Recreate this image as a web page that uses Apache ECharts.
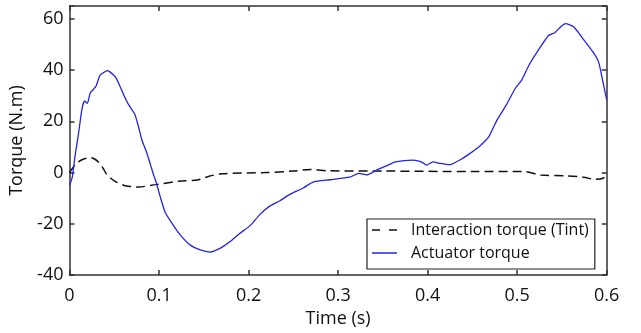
<!DOCTYPE html>
<html><head><meta charset="utf-8">
<script src="https://cdn.jsdelivr.net/npm/echarts@6/dist/echarts.min.js"></script>
<style>html,body{margin:0;padding:0;background:#fff}#c{width:641px;height:333px}</style>
</head><body><div id="c"></div>
<script>
const xTicks = [0, 0.1, 0.2, 0.3, 0.4, 0.5, 0.6];
const yTicks = [-40, -20, 0, 20, 40, 60];
const actuatorT = [0,0.003,0.006,0.010,0.014,0.017,0.020,0.023,0.027,0.030,0.034,0.038,0.042,0.045,0.051,0.056,0.061,0.066,0.073,0.077,0.081,0.086,0.090,0.094,0.097,0.101,0.107,0.116,0.124,0.135,0.146,0.157,0.168,0.179,0.190,0.202,0.213,0.224,0.235,0.245,0.261,0.272,0.291,0.313,0.323,0.332,0.343,0.354,0.364,0.384,0.393,0.399,0.406,0.414,0.425,0.436,0.447,0.459,0.468,0.477,0.488,0.498,0.505,0.513,0.522,0.535,0.542,0.549,0.554,0.563,0.574,0.585,0.591,0.595,0.600];
const actuatorV = [-5,-2,6,15,25,28,27,31,32.6,34,38,39,39.8,39.3,37.4,34,30,26.5,22.7,18,12.5,8,3.6,-1,-4,-9,-15.6,-20.6,-24.5,-28.3,-30.2,-31,-29.6,-27,-23.8,-20.6,-16.2,-13,-11,-8.7,-6,-3.7,-2.8,-1.8,-0.3,-0.9,1,2.6,4.2,4.9,4.2,2.9,4.2,3.6,3.1,4.9,7.4,10.6,13.8,20.2,26.5,32.9,36.1,41.8,46.9,53.5,54.6,57,58.1,56.9,52,46.9,43.1,36.7,28.4];
const interT = [0,0.005,0.010,0.016,0.023,0.028,0.032,0.037,0.042,0.051,0.062,0.077,0.096,0.122,0.144,0.155,0.170,0.218,0.25,0.269,0.29,0.35,0.45,0.507,0.526,0.556,0.574,0.587,0.596,0.600];
const interV = [0,2.5,4.2,5.3,5.9,5.3,4.2,2,-0.9,-3.4,-5.1,-5.6,-4.7,-3.4,-2.8,-1.5,-0.5,0,0.6,1.2,0.7,0.6,0.4,0.4,-0.9,-1.3,-1.8,-2.6,-2.2,-0.5];
const seriesNames = ['Interaction torque (Tint)', 'Actuator torque'];

const zip = (a, b) => a.map((t, i) => [t, b[i]]);
const FONT = '"Open Sans", sans-serif';
const lineC = '#333';
const BLUE = '#2424e0';
const chart = echarts.init(document.getElementById('c'));
const baseX = {
  type: 'value', min: 0, max: 0.6, interval: 0.1,
  axisLine: {show: true, onZero: false, lineStyle: {color: lineC, width: 1.5}},
  axisTick: {show: true, inside: true, length: 5, lineStyle: {color: lineC, width: 1.5}},
  splitLine: {show: false}
};
const baseY = {
  type: 'value', min: -40, max: 65, interval: 20,
  axisLine: {show: true, onZero: false, lineStyle: {color: lineC, width: 1.5}},
  axisTick: {show: true, inside: true, length: 5, lineStyle: {color: lineC, width: 1.5}},
  splitLine: {show: false}
};
chart.setOption({
  animation: false,
  textStyle: {fontFamily: FONT},
  grid: {left: 69.5, right: 34.3, top: 6, bottom: 51.7},
  xAxis: [
    Object.assign({}, baseX, {
      position: 'bottom', name: 'Time (s)', nameLocation: 'middle', nameGap: 31,
      nameTextStyle: {fontSize: 18, color: '#111', fontFamily: FONT},
      axisLabel: {fontSize: 18, color: '#111', margin: 12, fontFamily: FONT,
        formatter: v => xTicks.includes(Math.round(v*10)/10) ? String(Math.round(v*10)/10) : ''}
    }),
    Object.assign({}, baseX, {position: 'top', axisLabel: {show: false}})
  ],
  yAxis: [
    Object.assign({}, baseY, {
      position: 'left', name: 'Torque (N.m)', nameLocation: 'middle', nameGap: 36,
      nameTextStyle: {fontSize: 18, color: '#111', fontFamily: FONT},
      axisLabel: {fontSize: 18, color: '#111', margin: 6, fontFamily: FONT,
        formatter: v => yTicks.includes(v) ? String(v) : ''}
    }),
    Object.assign({}, baseY, {position: 'right', axisLabel: {show: false}})
  ],
  legend: {
    orient: 'vertical', left: 367, top: 219,
    padding: [2, 6, 7, 5],
    borderColor: '#222', borderWidth: 1.2, backgroundColor: '#fff',
    itemWidth: 25, itemHeight: 1.5, itemGap: 5, symbolKeepAspect: false,
    textStyle: {fontSize: 16, lineHeight: 18, color: '#111', fontFamily: FONT, padding: [0, 0, 0, 9]},
    data: [
      {name: seriesNames[0], icon: 'path://M0,0H8V1.5H0Z M17,0H25V1.5H17Z', itemStyle: {color: '#111'}},
      {name: seriesNames[1], icon: 'rect', itemStyle: {color: BLUE}}
    ]
  },
  series: [
    {
      name: seriesNames[0], type: 'line', showSymbol: false, symbol: 'none',
      data: zip(interT, interV), smooth: 0.3,
      lineStyle: {color: '#111', width: 1.5, type: [9, 5]}, itemStyle: {color: '#111'}
    },
    {
      name: seriesNames[1], type: 'line', showSymbol: false, symbol: 'none',
      data: zip(actuatorT, actuatorV), smooth: 0.2,
      lineStyle: {color: BLUE, width: 1.3}, itemStyle: {color: BLUE}
    }
  ]
});
</script></body></html>
